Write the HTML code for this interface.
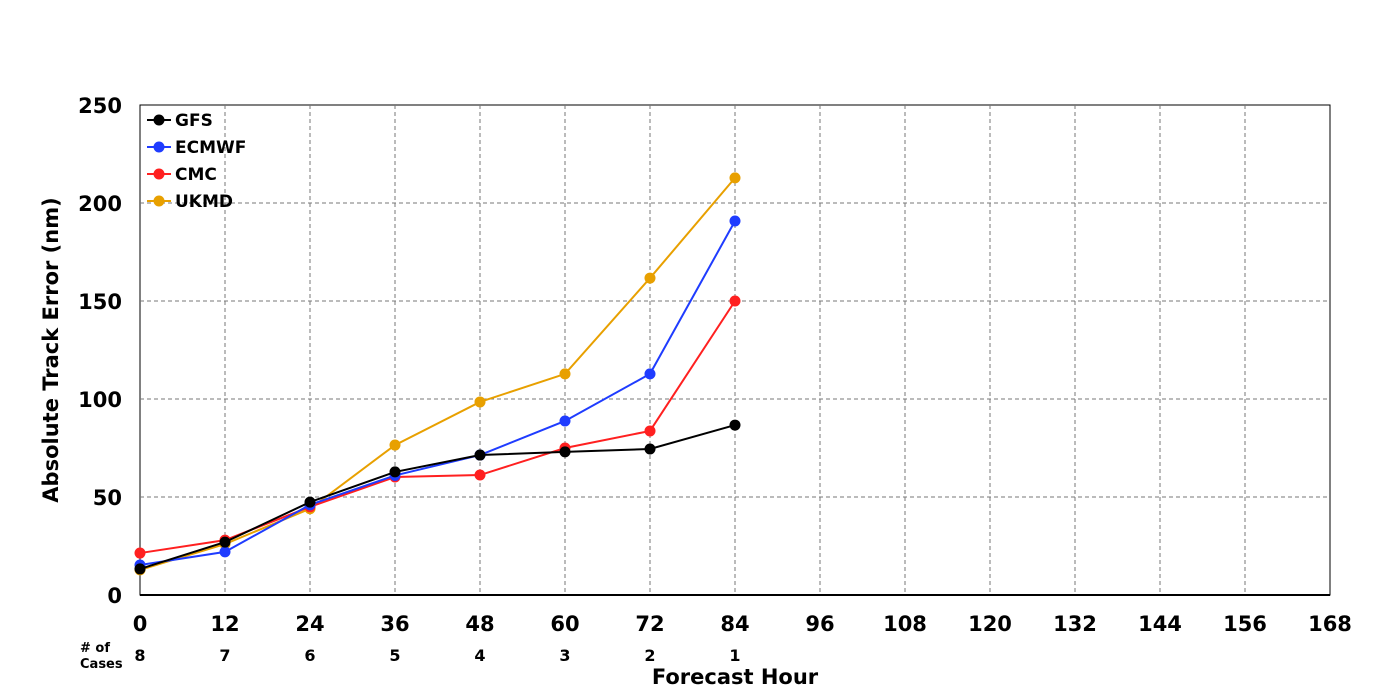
<!DOCTYPE html>
<html><head><meta charset="utf-8"><style>
html,body{margin:0;padding:0;background:#fff;width:1400px;height:700px;overflow:hidden;font-family:"Liberation Sans","DejaVu Sans",sans-serif;}
</style></head><body>
<svg id="chart" width="1400" height="700" xmlns="http://www.w3.org/2000/svg" font-family="DejaVu Sans, Liberation Sans, sans-serif" font-weight="bold"></svg>
<script>
const hours = [0,12,24,36,48,60,72,84];
const xTicks = [0,12,24,36,48,60,72,84,96,108,120,132,144,156,168];
const yTicks = [0,50,100,150,200,250];
const cases = [8,7,6,5,4,3,2,1];
const gfs = [13.3,27,47.4,62.8,71.4,73,74.5,86.7];
const ecmwf = [15.3,22,46,61,71.4,88.8,112.8,190.8];
const cmc = [21.4,28,45,60.2,61.2,75,83.7,150];
const ukmd = [12.8,26,44,76.5,98.5,112.8,161.7,212.8];
const seriesNames = ["GFS","ECMWF","CMC","UKMD"];
const seriesData = [gfs,ecmwf,cmc,ukmd];
const seriesColors = ["#000000","#1f3cff","#ff2020","#e8a000"];
const drawOrder = [3,2,1,0];

const L=140,R=1330,T=105,B=595;
const xs = h => L + (h/168)*(R-L);
const ys = v => B - (v/250)*(B-T);
const svg = document.getElementById('chart');
const NS='http://www.w3.org/2000/svg';
function mk(tag, attrs, parent){const e=document.createElementNS(NS,tag);for(const k in attrs)e.setAttribute(k,attrs[k]);(parent||svg).appendChild(e);return e;}

mk('rect',{x:L,y:T,width:R-L,height:B-T,fill:'#fff',stroke:'#000','stroke-width':1});
xTicks.forEach(t=>{
  if(t>0&&t<168){const g=mk('line',{x1:xs(t),x2:xs(t),y1:T,y2:B,stroke:'#777','stroke-dasharray':'4,3','stroke-width':1});
  
  }
  const tx=mk('text',{x:xs(t),y:631,'text-anchor':'middle','font-size':21});
  tx.textContent=t;
  
  
});
yTicks.forEach(t=>{
  if(t>0&&t<250){const g=mk('line',{x1:L,x2:R,y1:ys(t),y2:ys(t),stroke:'#777','stroke-dasharray':'4,3','stroke-width':1});
  
  }
  const tx=mk('text',{x:122,y:ys(t)+8,'text-anchor':'end','font-size':21});
  tx.textContent=t;
  
  
});
mk('line',{x1:L,x2:R,y1:B,y2:B,stroke:'#000','stroke-width':2});
hours.forEach((h,i)=>{
  const tx=mk('text',{x:xs(h),y:661,'text-anchor':'middle','font-size':16});
  tx.textContent=cases[i];
  
  
});
let c1=mk('text',{x:80,y:652,'font-size':13});c1.textContent='# of';


let c2=mk('text',{x:80,y:668,'font-size':13});c2.textContent='Cases';


let xt=mk('text',{x:735,y:684,'text-anchor':'middle','font-size':21});xt.textContent='Forecast Hour';


let yt=mk('text',{x:58,y:350,'text-anchor':'middle','font-size':21,transform:'rotate(-90 58 350)'});yt.textContent='Absolute Track Error (nm)';



drawOrder.forEach(si=>{
  const d=seriesData[si],c=seriesColors[si];
  const pl=mk('polyline',{points:hours.map((h,i)=>xs(h)+','+ys(d[i])).join(' '),fill:'none',stroke:c,'stroke-width':2});
  
  
  hours.forEach((h,i)=>{
    const p=mk('circle',{cx:xs(h),cy:ys(d[i]),r:5.5,fill:c});
    
    
  });
});
seriesNames.forEach((n,i)=>{
  const y=120+i*27;
  const g=mk('g',{});
  
  
  mk('line',{x1:147,x2:171,y1:y,y2:y,stroke:seriesColors[i],'stroke-width':2},g);
  mk('circle',{cx:159,cy:y,r:5.5,fill:seriesColors[i]},g);
  const t=mk('text',{x:175,y:y+6,'font-size':17},g);t.textContent=n;
});
</script>
</body></html>
